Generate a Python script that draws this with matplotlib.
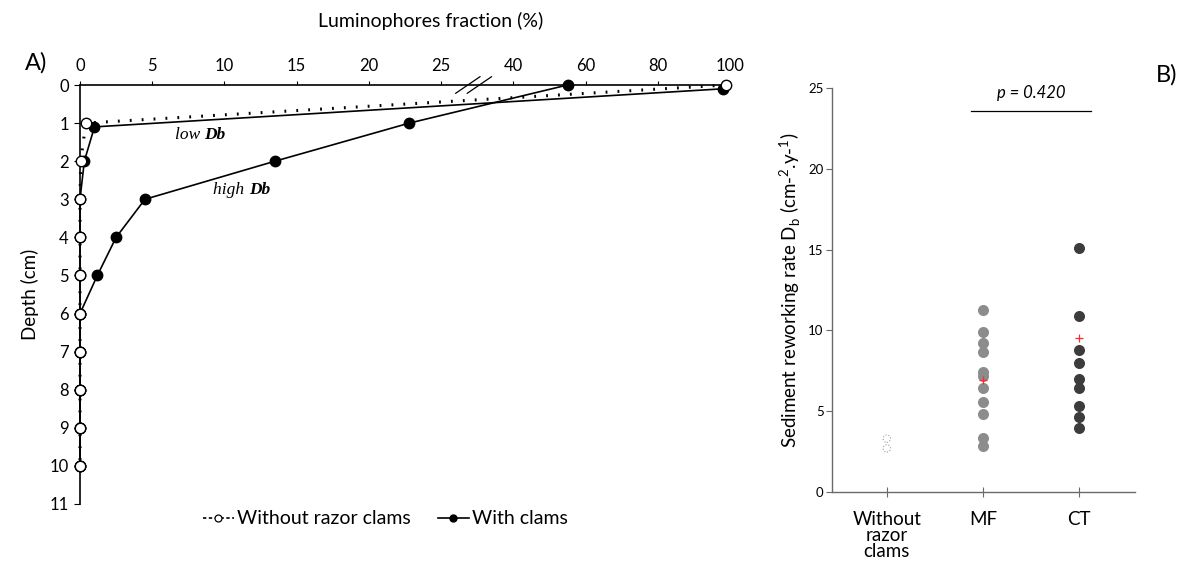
import numpy as np
import matplotlib
matplotlib.use("Agg")
import matplotlib.pyplot as plt
from matplotlib.lines import Line2D

plt.rcParams['font.family'] = ['Lato', 'DejaVu Sans']

# ---------------- Panel A: luminophore depth profiles ----------------
frac_ticks = [0, 5, 10, 15, 20, 25, 40, 60, 80, 100]
depth_ticks = list(range(0, 12))

depth_without = [0, 1, 2, 3, 4, 5, 6, 7, 8, 9, 10]
frac_without = [99, 0.4, 0.05, 0, 0, 0, 0, 0, 0, 0, 0]

depth_low = [0.1, 1.1, 2, 3, 4, 5, 6, 7, 8, 9, 10]
frac_low = [98, 1.0, 0.3, 0, 0, 0, 0, 0, 0, 0, 0]

depth_high = [0, 1, 2, 3, 4, 5, 6, 7, 8, 9, 10]
frac_high = [55, 22.8, 13.5, 4.5, 2.5, 1.2, 0, 0, 0, 0, 0]

# ---------------- Panel B: reworking rates ----------------
groups = ["Without\nrazor\nclams", "MF", "CT"]
db_without = [3.3, 2.7]
db_mf = [11.25, 9.9, 9.2, 8.65, 7.4, 7.15, 6.45, 5.55, 4.8, 3.35, 2.85]
db_ct = [15.1, 10.9, 8.8, 8.0, 7.0, 6.45, 5.3, 4.65, 3.95]
db_means = [6.95, 9.55]          # MF, CT
p_text = "p = 0.420"
db_ticks = [0, 5, 10, 15, 20, 25]

fig = plt.figure(figsize=(11.84, 5.68), dpi=100)

# Broken fraction axis: equal spacing between the listed ticks
tick_pos = np.arange(len(frac_ticks), dtype=float)
def fwd(v):
    return np.interp(v, frac_ticks, tick_pos)
def inv(p):
    return np.interp(p, tick_pos, frac_ticks)

axA = fig.add_axes([80 / 1184, 1 - 504 / 568, 650 / 1184, 419 / 568])
axA.set_xscale('function', functions=(fwd, inv))
axA.set_xlim(0, 100)
axA.set_ylim(11, 0)
axA.set_xticks(frac_ticks)
axA.set_xticklabels([str(t) for t in frac_ticks])
axA.set_yticks(depth_ticks)
axA.xaxis.tick_top()
axA.xaxis.set_label_position('top')
axA.set_xlabel("Luminophores fraction (%)", fontsize=14, labelpad=22)
axA.xaxis.label.set_x(0.54)
axA.set_ylabel("Depth (cm)", fontsize=13.5, labelpad=8)
for s in ['right', 'bottom']:
    axA.spines[s].set_visible(False)
for s in ['top', 'left']:
    axA.spines[s].set_linewidth(1.2)
axA.tick_params(axis='x', direction='out', length=3, width=0.8, labelsize=12, pad=5)
axA.tick_params(axis='y', direction='out', length=4, width=0.8, labelsize=12, pad=4)

axA.plot(frac_high, depth_high, color='black', lw=1.2, marker='o', ms=7.5,
         mfc='black', mec='black', clip_on=False, zorder=3)
axA.plot(frac_low, depth_low, color='black', lw=1.2, marker='o', ms=7.5,
         mfc='black', mec='black', clip_on=False, zorder=3)
axA.plot(frac_without, depth_without, color='black', lw=2.2,
         linestyle=(0, (0.6, 3.3)), dash_capstyle='butt', marker='o', ms=7.5,
         mfc='white', mec='black', mew=1.0, clip_on=False, zorder=4)

# Axis break marks between 25 and 40
for off in (-0.08, 0.08):
    axA.annotate("", xy=(inv(5.45 + off + 0.17), -0.22), xytext=(inv(5.45 + off - 0.17), 0.22),
                 arrowprops=dict(arrowstyle='-', lw=0.9, color='black',
                                 shrinkA=0, shrinkB=0),
                 annotation_clip=False)

# Profile annotations
serif = ['Liberation Serif', 'DejaVu Serif']
axA.text(8.6, 1.3, "low ", ha='right', va='center', fontsize=12.5,
         family=serif, style='italic')
axA.text(8.6, 1.3, "Db", ha='left', va='center', fontsize=12.5,
         family=serif, style='italic', weight='bold')
axA.text(11.7, 2.75, "high ", ha='right', va='center', fontsize=12.5,
         family=serif, style='italic')
axA.text(11.7, 2.75, "Db", ha='left', va='center', fontsize=12.5,
         family=serif, style='italic', weight='bold')

handles = [
    Line2D([], [], color='black', lw=1.2, linestyle=(0, (2, 1.5)), marker='o',
           ms=5, mfc='white', mec='black', mew=0.9),
    Line2D([], [], color='black', lw=1.2, marker='o', ms=5, mfc='black', mec='black'),
]
fig.legend(handles, ["Without razor clams", "With clams"], loc='center',
           bbox_to_anchor=(385 / 1184, 1 - 519 / 568), ncol=2, frameon=False,
           fontsize=14, handlelength=1.6, handletextpad=0.15, columnspacing=1.4)

fig.text(25 / 1184, 1 - 63 / 568, "A)", fontsize=17, ha='left', va='center')

# ---------------- Panel B ----------------
axB = fig.add_axes([832 / 1184, 1 - 492 / 568, 303 / 1184, 404 / 568])
xpos = np.arange(1, len(groups) + 1)
axB.set_xlim(0.43, 3.58)
axB.set_ylim(0, 25)
axB.set_yticks(db_ticks)
axB.set_xticks(xpos)
axB.set_xticklabels(groups, fontsize=13.5, linespacing=0.95)
axB.set_ylabel(r"Sediment reworking rate D$_\mathregular{b}$ (cm-$^\mathregular{2}$.y-$^\mathregular{1}$)",
               fontsize=13.5, labelpad=4)
for s in ['right', 'top']:
    axB.spines[s].set_visible(False)
for s in ['left', 'bottom']:
    axB.spines[s].set_color('#6a6a6a')
    axB.spines[s].set_linewidth(1.0)
axB.tick_params(axis='y', direction='out', length=4, width=0.8, color='#6a6a6a',
                labelsize=9.5, pad=2)
axB.tick_params(axis='x', direction='inout', length=7, width=0.8, color='#6a6a6a',
                pad=10)

axB.scatter([xpos[0]] * len(db_without), db_without, s=28, facecolor='white',
            edgecolor='#9a9a9a', linewidth=0.8, linestyle=':', zorder=3)
axB.scatter([xpos[1]] * len(db_mf), db_mf, s=48, color='#8c8c8c', zorder=3)
axB.scatter([xpos[2]] * len(db_ct), db_ct, s=48, color='#3c3c3c', zorder=3)
axB.scatter(xpos[1:], db_means, marker='+', s=40, color='#ff2a2a', linewidth=0.9, zorder=4)

axB.plot([xpos[1] - 0.12, xpos[2] + 0.12], [23.6, 23.6], color='black', lw=0.9)
axB.text((xpos[1] + xpos[2]) / 2, 24.2, p_text, ha='center', va='bottom',
         fontsize=12, style='italic')

fig.text(1167 / 1184, 1 - 75 / 568, "B)", fontsize=17, ha='center', va='center')

fig.savefig("out.png", dpi=100)
